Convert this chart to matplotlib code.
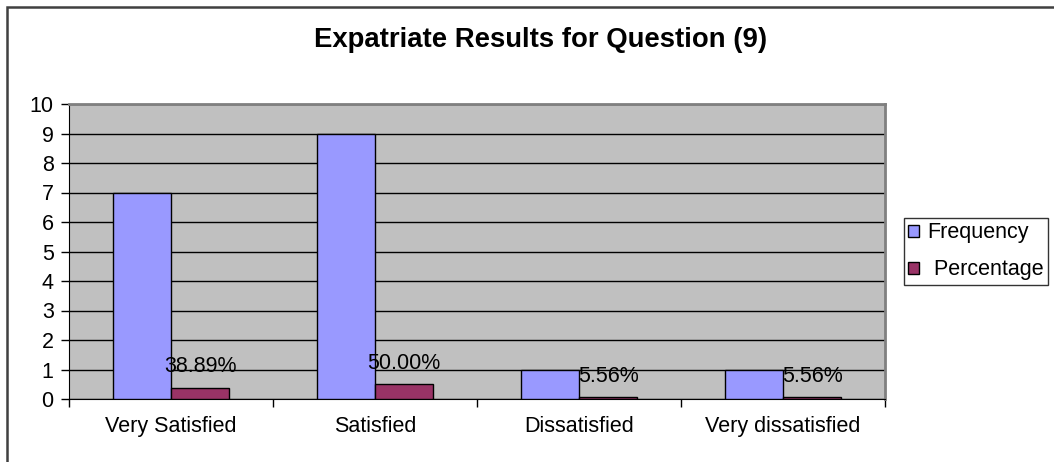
import matplotlib
matplotlib.use("Agg")
import matplotlib.pyplot as plt
from matplotlib.patches import Rectangle, Patch
import numpy as np

plt.rcParams['font.family'] = ['Liberation Sans', 'DejaVu Sans']

categories = ["Very Satisfied", "Satisfied", "Dissatisfied", "Very dissatisfied"]
frequency = [7, 9, 1, 1]
percentage = [0.3889, 0.5000, 0.0556, 0.0556]
percent_labels = ["38.89%", "50.00%", "5.56%", "5.56%"]
title = "Expatriate Results for Question (9)"

W, H = 1054, 462
FS = 15.5
fig = plt.figure(figsize=(W / 100, H / 100), dpi=100)
fig.patch.set_facecolor('white')

# outer chart frame (only left/top visible)
fig.patches.append(Rectangle((7 / W, -0.1), 1.2, (H - 7) / H + 0.1, transform=fig.transFigure,
                             fill=False, edgecolor='#404040', linewidth=1.8))

ax = fig.add_axes([69 / W, (H - 399) / H, (885 - 69) / W, (399 - 104) / H])
ax.set_facecolor('#C0C0C0')

x = np.arange(len(categories)) + 0.5
bw = 0.285
ax.bar(x - bw / 2, frequency, bw, color='#9999FF', edgecolor='black', linewidth=1.0,
       label='Frequency', zorder=3)
ax.bar(x + bw / 2, percentage, bw, color='#993366', edgecolor='black', linewidth=1.0,
       label=' Percentage', zorder=3)

for xi, v, lab in zip(x + bw / 2, percentage, percent_labels):
    ax.text(xi, v + 0.72, lab, ha='center', va='center', fontsize=FS, color='black', zorder=4)

ax.set_xlim(0, 4)
ax.set_ylim(0, 10)
ax.set_yticks(range(0, 11))
ax.yaxis.grid(True, color='black', linewidth=1.0, zorder=1)
ax.set_axisbelow(True)

ax.set_xticks([0, 1, 2, 3, 4])
ax.set_xticklabels([])
ax.set_xticks(x, minor=True)
ax.set_xticklabels(categories, minor=True, fontsize=FS)
ax.tick_params(axis='x', which='minor', length=0, pad=12)
ax.tick_params(axis='x', which='major', length=6, width=1, direction='out')
ax.tick_params(axis='y', length=6, width=1, direction='out', labelsize=FS, pad=5)

for s in ['top', 'right']:
    ax.spines[s].set_color('#808080')
    ax.spines[s].set_linewidth(2)
ax.spines['left'].set_color('black')
ax.spines['bottom'].set_color('black')

fig.text(541 / W, 1 - 47 / H, title, ha='center', va='baseline', fontsize=19.8, fontweight='bold')

handles = [Patch(facecolor='#9999FF', edgecolor='black', linewidth=1.0),
           Patch(facecolor='#993366', edgecolor='black', linewidth=1.0)]
leg = fig.legend(handles, ['Frequency', ' Percentage'], loc='upper left',
                 bbox_to_anchor=(904 / W, 1 - 218 / H), frameon=True, fontsize=FS,
                 handlelength=0.5, handleheight=0.5, handletextpad=0.4,
                 borderpad=0.2, labelspacing=0.75, fancybox=False, borderaxespad=0)
leg.get_frame().set_edgecolor('black')
leg.get_frame().set_linewidth(1.0)

fig.savefig('out.png', dpi=100, facecolor='white')
